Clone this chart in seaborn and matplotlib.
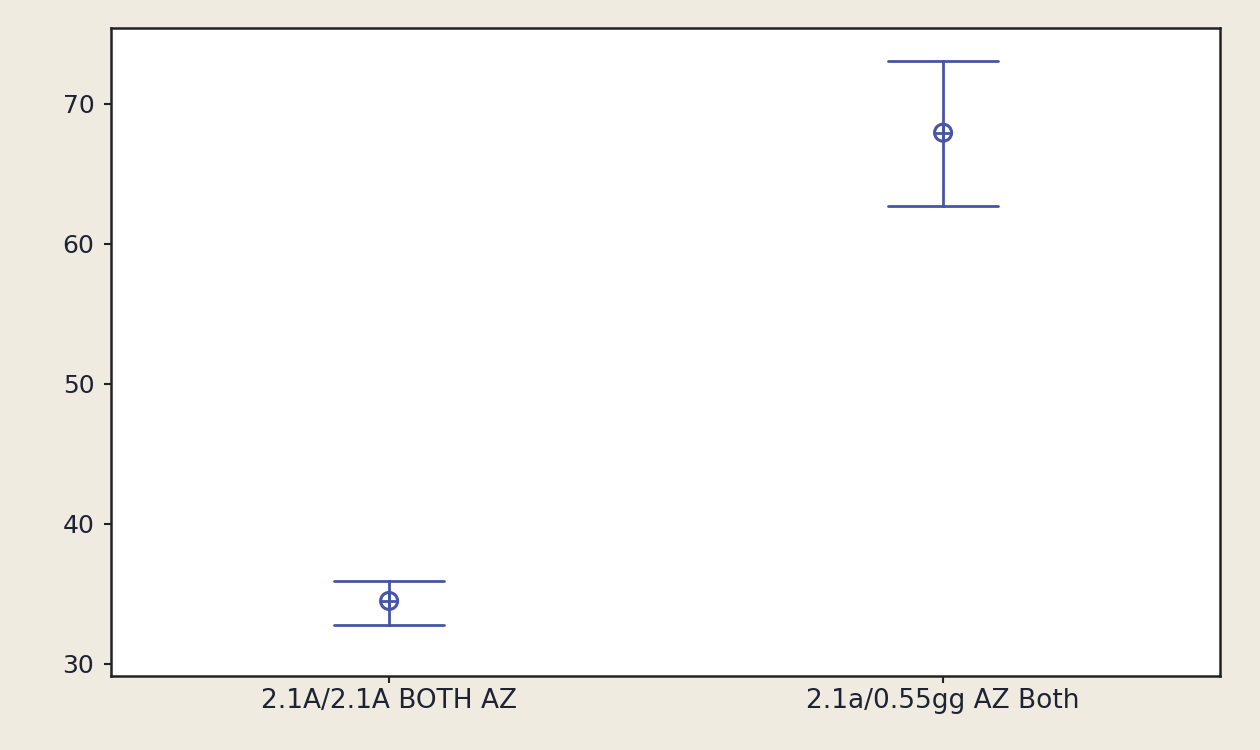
import matplotlib
matplotlib.use("Agg")
import matplotlib.pyplot as plt
import seaborn as sns
import pandas as pd

categories = ["2.1A/2.1A BOTH AZ", "2.1a/0.55gg AZ Both"]
means = [34.5, 67.95]
lowers = [32.8, 62.7]
uppers = [35.95, 73.1]
yticks = [30, 40, 50, 60, 70]

sns.set_theme(style="white")
plt.rcParams['font.family'] = ['DejaVu Sans']

rows = []
for c, lo, m, hi in zip(categories, lowers, means, uppers):
    for v in (lo, m, hi):
        rows.append({"group": c, "value": v})
df = pd.DataFrame(rows)
mdf = pd.DataFrame({"group": categories, "value": means})

color = "#4655A5"
bg = "#F0EBE1"

fig = plt.figure(figsize=(12.6, 7.5), dpi=100, facecolor=bg)
ax = fig.add_axes([0.0881, 0.0987, 0.8802, 0.864])
ax.set_facecolor("white")

sns.pointplot(data=df, x="group", y="value", order=categories,
              estimator="median", errorbar=("pi", 100), capsize=0.2,
              linestyle="none", marker="none", color=color,
              err_kws={"linewidth": 2.0}, ax=ax)
sns.scatterplot(data=mdf, x="group", y="value", marker="o", s=150,
                facecolor="none", edgecolor=color, linewidth=2.2, ax=ax, zorder=5)
sns.scatterplot(data=mdf, x="group", y="value", marker="+", s=150,
                color=color, linewidth=2.0, ax=ax, zorder=5)

ax.set_xlim(-0.502, 1.5)
ax.set_ylim(29.14, 75.43)
ax.set_yticks(yticks)
ax.set_xlabel("")
ax.set_ylabel("")
for s in ax.spines.values():
    s.set_visible(True)
    s.set_color("#222222")
    s.set_linewidth(1.8)
ax.tick_params(axis="both", which="both", direction="out", length=5, width=1.5,
               color="#222222", labelsize=19, labelcolor="#1e2233",
               left=True, bottom=True, pad=4)
ax.tick_params(axis="y", labelsize=18, pad=7)

fig.savefig("out.png", dpi=100, facecolor=bg)
